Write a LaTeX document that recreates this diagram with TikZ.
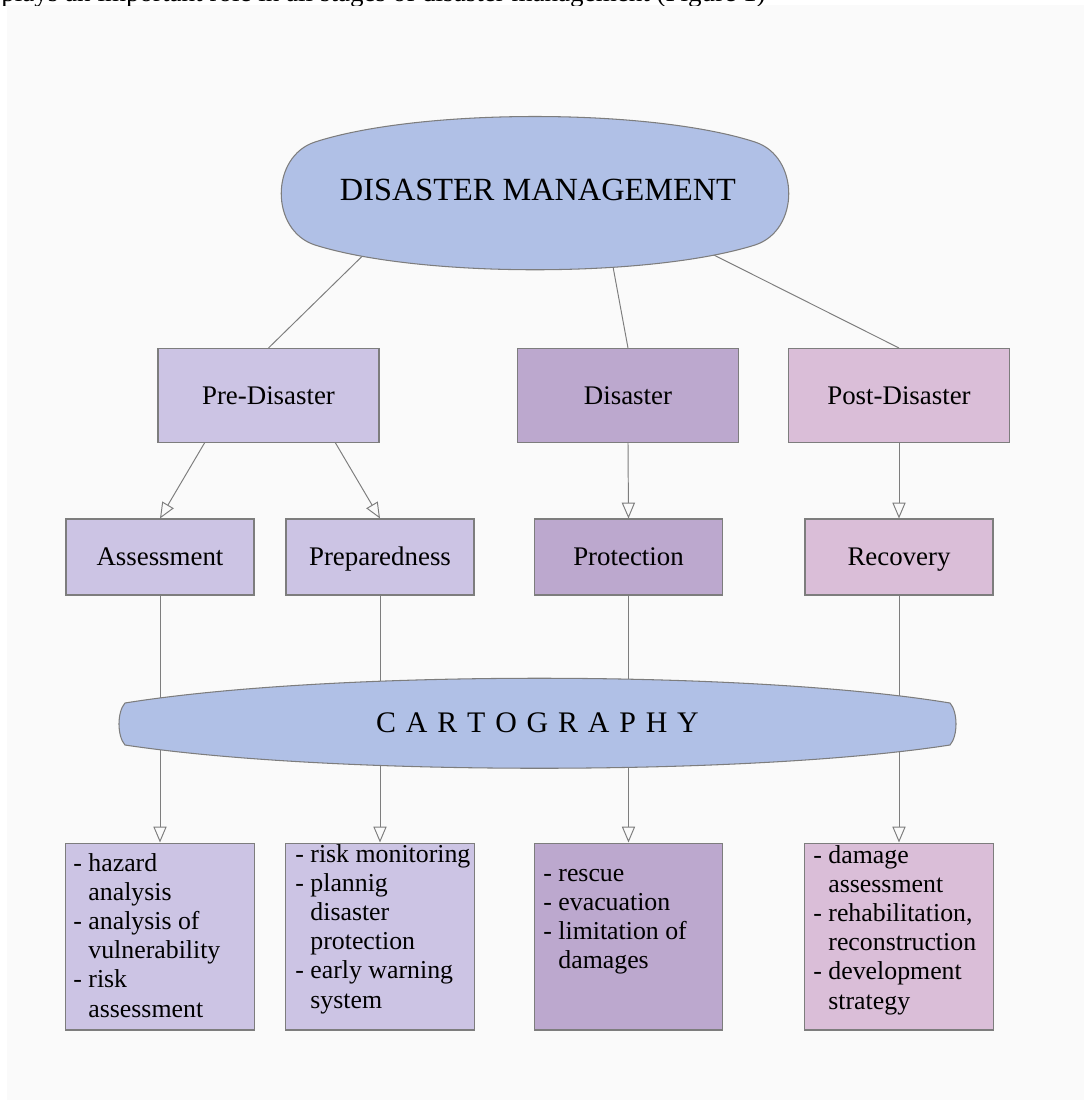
\documentclass[tikz,border=0pt]{standalone}
\usepackage{fontspec}
\setmainfont{Liberation Serif}
\usepackage{tikz}
\usetikzlibrary{arrows.meta,positioning}

\definecolor{blobblue}{RGB}{176,192,230}
\definecolor{prelila}{RGB}{204,196,228}
\definecolor{dislila}{RGB}{188,168,206}
\definecolor{postpink}{RGB}{218,190,216}
\definecolor{linegray}{RGB}{125,125,125}
\definecolor{panelgray}{RGB}{250,250,250}

\newcommand{\lsp}{\hspace{0.33em}}

\begin{document}
\begin{tikzpicture}[x=0.02cm,y=-0.02cm,
  stage/.style={draw=linegray, line width=0.6pt, minimum width=4.42cm, minimum height=1.88cm, text height=10.4pt, text depth=0pt, font=\fontsize{15.3}{18}\selectfont},
  phase/.style={draw=linegray, line width=0.6pt, minimum width=3.76cm, minimum height=1.52cm, text height=10.1pt, text depth=0pt, font=\fontsize{15.3}{18}\selectfont},
  listbox/.style={draw=linegray, line width=0.6pt, minimum width=3.77cm, minimum height=3.74cm},
  listtext/.style={anchor=north west, inner sep=0pt, font=\fontsize{14.7}{16.6}\selectfont},
  link/.style={draw=linegray, line width=0.55pt},
  arr/.style={link, -{Triangle[open, length=9pt, width=7.5pt]}},
  blob/.style={fill=blobblue, draw=linegray, line width=0.6pt}]
\useasboundingbox (0,0) rectangle (1084,1100);
\fill[panelgray] (7,5) rectangle (1084,1100);

% line of text cut off at the top
\begin{scope}
\clip (0,0) rectangle (1084,5);
\node[anchor=base west, inner sep=0pt, font=\fontsize{15.4}{18}\selectfont] (lead) at (1,1) {plays an important role in all stages of disaster management (Figure 1)};
\end{scope}

% stages
\node[stage, fill=prelila] (pre) at (268.5,395.5) {Pre-Disaster};
\node[stage, fill=dislila] (dis) at (628,395.5) {Disaster};
\node[stage, fill=postpink] (post) at (899,395.5) {Post-Disaster};

\node[phase, fill=prelila] (assess) at (160,557) {Assessment};
\node[phase, fill=prelila] (prep) at (380,557) {Preparedness};
\node[phase, fill=dislila] (prot) at (628.5,557) {Protection};
\node[phase, fill=postpink] (recov) at (899,557) {Recovery};

\node[listbox, fill=prelila] (assessbox) at (160,936.5) {};
\node[listbox, fill=prelila] (prepbox) at (380,936.5) {};
\node[listbox, fill=dislila] (protbox) at (628.5,936.5) {};
\node[listbox, fill=postpink] (recovbox) at (899,936.5) {};

\node[listtext] (assesstxt) at (73,850.5) {\begin{tabular}{@{}l@{\hspace{0.25em}}l@{}}
- & hazard\\ & analysis\\ - & analysis of\\ & vulnerability\\ - & risk\\ & assessment\end{tabular}};
\node[listtext] (preptxt) at (295,841.5) {\begin{tabular}{@{}l@{\hspace{0.25em}}l@{}}
- & risk monitoring\\ - & plannig\\ & disaster\\ & protection\\ - & early warning\\ & system\end{tabular}};
\node[listtext] (prottxt) at (543,860.5) {\begin{tabular}{@{}l@{\hspace{0.25em}}l@{}}
- & rescue\\ - & evacuation\\ - & limitation of\\ & damages\end{tabular}};
\node[listtext] (recovtxt) at (813,842.5) {\begin{tabular}{@{}l@{\hspace{0.25em}}l@{}}
- & damage\\ & assessment\\ - & rehabilitation,\\ & reconstruction\\ - & development\\ & strategy\end{tabular}};

% connectors
\coordinate (dm-a) at (390,229);
\coordinate (dm-b) at (609,245);
\coordinate (dm-c) at (680,238);
\draw[link] (dm-a) -- (pre.north);
\draw[link] (dm-b) -- (dis.north);
\draw[link] (dm-c) -- (post.north);

\draw[arr] ([xshift=0.94cm]pre.south west) -- (assess.north);
\draw[arr] ([xshift=-0.88cm]pre.south east) -- (prep.north);
\draw[arr] (dis.south) -- (prot.north);
\draw[arr] (post.south) -- (recov.north);

\draw[arr] (assess.south) -- (assessbox.north);
\draw[arr] (prep.south) -- (prepbox.north);
\draw[arr] (prot.south) -- (protbox.north);
\draw[arr] (recov.south) -- (recovbox.north);

% the two blobs
\draw[blob] (315,142) .. controls (420,108) and (650,108) .. (755,142)
  .. controls (800,156.6) and (800,230.5) .. (755,245)
  .. controls (650,278) and (420,278) .. (315,245)
  .. controls (270,230.5) and (270,156.6) .. cycle;
\node[font=\fontsize{18.4}{22}\selectfont] (dm) at (538,190) {DISASTER MANAGEMENT};

\draw[blob] (125,703) .. controls (330,670) and (750,670) .. (950,703)
  .. controls (958,712) and (958,736) .. (950,745)
  .. controls (750,776) and (330,776) .. (125,745)
  .. controls (117,736) and (117,712) .. cycle;
\node[font=\fontsize{17}{20}\selectfont] (carto) at (537.5,723) {C\lsp A\lsp R\lsp T\lsp O\lsp G\lsp R\lsp A\lsp P\lsp H\lsp Y};
\end{tikzpicture}
\end{document}
